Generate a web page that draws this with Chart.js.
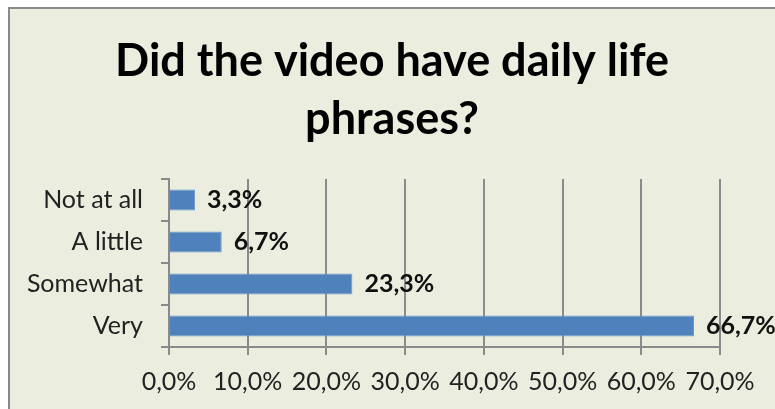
<!DOCTYPE html>
<html>
<head>
<meta charset="utf-8">
<script src="https://cdn.jsdelivr.net/npm/chart.js@4/dist/chart.umd.min.js"></script>
<style>
  html, body { margin: 0; padding: 0; background: #fff; }
  canvas { display: block; }
</style>
</head>
<body>
<canvas id="chart" width="775" height="409"></canvas>
<script>
// survey answers, top to bottom
const answers = ['Not at all', 'A little', 'Somewhat', 'Very'];
const shares = [3.3, 6.7, 23.3, 66.7];
const titleLines = ['Did the video have daily life', 'phrases?'];

const FONT = 'Lato, "Open Sans", sans-serif';
const pct = v => v.toFixed(1).replace('.', ',') + '%';

// greenish panel with a grey border on the top and left
const panelBg = {
    id: 'panelBg',
    beforeDraw(chart) {
        const ctx = chart.ctx;
        ctx.save();
        ctx.fillStyle = '#ebeedf';
        ctx.fillRect(9, 8, chart.width, chart.height);
        ctx.strokeStyle = '#8a8a8a';
        ctx.lineWidth = 2;
        ctx.strokeRect(9, 8, chart.width + 10, chart.height + 10);
        ctx.restore();
    }
};

// bold value labels to the right of each bar
const valueLabels = {
    id: 'valueLabels',
    afterDatasetsDraw(chart) {
        const ctx = chart.ctx;
        const meta = chart.getDatasetMeta(0);
        ctx.save();
        ctx.font = 'bold 25px ' + FONT;
        ctx.fillStyle = '#111';
        ctx.textBaseline = 'middle';
        ctx.textAlign = 'left';
        meta.data.forEach((bar, i) => {
            ctx.fillText(pct(shares[i]), bar.x + 12, bar.y);
        });
        ctx.restore();
    }
};

new Chart(document.getElementById('chart'), {
    type: 'bar',
    data: {
        labels: answers,
        datasets: [{
            data: shares,
            backgroundColor: '#4f81bd',
            borderColor: '#6f97c9',
            borderWidth: 1,
            categoryPercentage: 1,
            barPercentage: 0.5
        }]
    },
    options: {
        indexAxis: 'y',
        responsive: false,
        animation: false,
        layout: { padding: { top: 10, left: 9, right: 0, bottom: 0 } },
        plugins: {
            legend: { display: false },
            tooltip: { enabled: false },
            title: {
                display: true,
                text: titleLines,
                color: '#000',
                font: { family: FONT, size: 45, weight: 'bold', lineHeight: 1.29 },
                padding: { top: 22, bottom: 31 }
            }
        },
        scales: {
            x: {
                min: 0,
                max: 70,
                // keep room on the right for the last value label
                afterFit: s => { s.paddingRight = 55; },
                ticks: {
                    stepSize: 10,
                    color: '#222',
                    padding: 12,
                    maxRotation: 0,
                    font: { family: FONT, size: 25 },
                    callback: v => pct(v)
                },
                grid: { color: '#8a8a8a', lineWidth: 2, tickLength: 8 },
                border: { color: '#8a8a8a', width: 2 }
            },
            y: {
                offset: true,
                afterFit: s => {
                    s.width = 160;
                    s.paddingTop = 0;
                    s.paddingBottom = 0;
                },
                ticks: {
                    color: '#222',
                    padding: 18,
                    font: { family: FONT, size: 25 }
                },
                grid: { drawOnChartArea: false, offset: true, color: '#8a8a8a', lineWidth: 2, tickLength: 8 },
                border: { color: '#8a8a8a', width: 2 }
            }
        }
    },
    plugins: [panelBg, valueLabels]
});
</script>
</body>
</html>
